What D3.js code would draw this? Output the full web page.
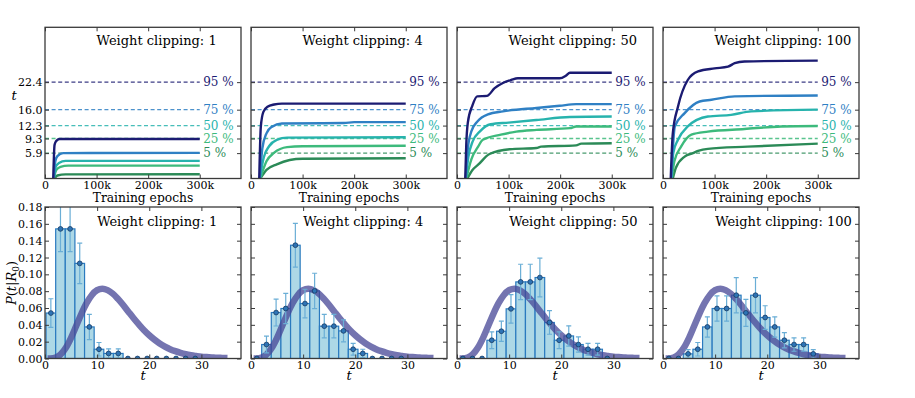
<!DOCTYPE html>
<html><head><meta charset="utf-8">
<script src="https://cdn.jsdelivr.net/npm/d3@7"></script>
<style>
body{margin:0;background:#fff;}
svg text{font-family:"DejaVu Serif",serif;}
</style></head><body>
<svg id="chart" width="915" height="398"></svg>
<script>
// ---------------- data ----------------
const clipValues = [1, 4, 50, 100];
const qLabels = ["95 %", "75 %", "50 %", "25 %", "5 %"];
const qValues = [22.4, 16.0, 12.3, 9.3, 5.9];
const epochTicks = [0, 100000, 200000, 300000];
const epochTickLabels = ["0", "100k", "200k", "300k"];
const tTicks = [0, 10, 20, 30];
const pTicks = [0, 0.02, 0.04, 0.06, 0.08, 0.10, 0.12, 0.14, 0.16, 0.18];

// training curves: [epoch, t] for 95,75,50,25,5 %
const trainW1 = [
  [[16000,0],[18500,7.8],[21000,8.6],[28000,9.2],[300000,9.2]],
  [[17000,0],[20000,4.0],[24000,5.2],[35000,5.9],[300000,5.95]],
  [[17000,0],[21000,2.8],[27000,3.6],[40000,4.1],[300000,4.1]],
  [[17000,0],[22000,2.0],[30000,2.7],[45000,3.0],[300000,3.0]],
  [[18000,0],[24000,0.7],[40000,0.95],[300000,1.0]]
];
const trainW4 = [
  [[16000,0],[19000,12],[24000,15.5],[32000,16.7],[45000,17.2],[60000,17.4],[300000,17.4]],
  [[17000,0],[22000,7],[30000,10.5],[40000,12.0],[60000,12.8],[180000,12.9],[200000,13.1],[300000,13.1]],
  [[17000,0],[25000,5],[35000,7.5],[50000,9.0],[70000,9.5],[300000,9.6]],
  [[18000,0],[30000,4],[45000,6],[70000,7.3],[100000,7.5],[300000,7.6]],
  [[18000,0],[30000,2],[50000,3.3],[75000,4.3],[100000,4.6],[300000,4.7]]
];
const trainW50 = [
  [[16000,0],[18000,8],[21000,13],[30000,17],[39000,19.1],[58000,19.2],[73000,21.0],[89000,22.2],[105000,22.9],[118000,23.3],[199000,23.3],[211000,23.9],[219000,24.6],[300000,24.6]],
  [[17000,0],[21000,7],[28000,11.0],[40000,13.3],[60000,14.9],[89000,15.6],[154000,16.4],[199000,16.9],[231000,17.3],[300000,17.3]],
  [[17000,0],[22000,5],[30000,8.5],[45000,11.0],[65000,12.6],[100000,13.0],[154000,13.6],[219000,14.3],[300000,14.4]],
  [[18000,0],[28000,4.5],[41000,7.4],[50000,9.0],[85000,10.2],[115000,10.9],[154000,11.3],[219000,11.7],[231000,12.1],[300000,12.1]],
  [[20000,0],[30000,2],[41000,3.2],[63000,5.7],[102000,6.8],[154000,7.1],[163000,7.4],[231000,7.7],[241000,8.1],[300000,8.2]]
];
const trainW100 = [
  [[15000,0],[19000,10.5],[29000,16.7],[48000,22.9],[68000,24.9],[100000,25.6],[126000,26.0],[139000,26.8],[158000,27.2],[300000,27.4]],
  [[16000,0],[23000,12.1],[42000,15.2],[71000,17.9],[94000,18.3],[139000,19.1],[300000,19.3]],
  [[16000,0],[20000,6],[29000,9.0],[48000,12.1],[87000,14.4],[132000,14.8],[171000,15.6],[300000,16.0]],
  [[17000,0],[22000,4],[35000,7.4],[55000,10.2],[87000,10.9],[158000,11.5],[229000,12.1],[300000,12.2]],
  [[19000,0],[25000,2.5],[42000,5.1],[58000,5.9],[68000,6.4],[87000,6.9],[164000,7.4],[300000,8.1]]
];

// histograms
const binEdges = [0.2, 2.05, 3.89, 5.74, 7.59, 9.43, 11.28, 13.13, 14.98, 16.82, 18.67, 20.52, 22.36, 24.21, 26.06, 27.9, 29.75];
const histW1   = [0.054, 0.154, 0.154, 0.113, 0.0375, 0.011, 0.006, 0.006, 0, 0, 0, 0, 0, 0, 0, 0];
const errW1    = [0.017, 0.027, 0.027, 0.024, 0.015, 0.008, 0.0055, 0.0055, 0, 0, 0, 0, 0, 0, 0, 0];
const histW4   = [0, 0.0166, 0.0546, 0.0594, 0.1346, 0.0653, 0.0803, 0.0384, 0.0384, 0.0328, 0.011, 0.006, 0, 0, 0, 0];
const errW4    = [0, 0.01, 0.016, 0.018, 0.026, 0.017, 0.021, 0.014, 0.014, 0.013, 0.007, 0.005, 0, 0, 0, 0];
const histW50  = [0, 0, 0, 0.0217, 0.0324, 0.059, 0.091, 0.091, 0.0962, 0.0428, 0.0217, 0.0268, 0.0166, 0.011, 0.011, 0];
const errW50   = [0, 0, 0, 0.01, 0.012, 0.017, 0.021, 0.021, 0.023, 0.014, 0.01, 0.012, 0.009, 0.007, 0.007, 0];
const histW100 = [0, 0, 0.0055, 0.011, 0.0375, 0.0594, 0.0594, 0.0752, 0.0542, 0.0752, 0.0487, 0.0375, 0.0217, 0.0166, 0.0166, 0.0055];
const errW100  = [0, 0, 0.005, 0.008, 0.012, 0.015, 0.015, 0.021, 0.016, 0.021, 0.014, 0.012, 0.009, 0.008, 0.008, 0.005];

// reference density curve
const curveT = [0.5,1,2,3,4,5,6,7,8,9,10,11,12,13,14,15,16,17,18,19,20,21,22,23,24,25,26,27,28,29,30,31,32,33,34,35];
const curveP = [0,0.0001,0.001,0.0048,0.0127,0.0246,0.0389,0.0534,0.066,0.0755,0.0812,0.083,0.0813,0.0771,0.0708,0.0635,0.0556,0.0478,0.0405,0.0336,0.0276,0.0224,0.0179,0.0142,0.0111,0.0087,0.0067,0.0051,0.0039,0.003,0.0022,0.0017,0.0013,0.0009,0.0007,0.0005];

// ---------------- style ----------------
const FONT = "DejaVu Serif, serif";
const qColors = ["#1b1b72", "#2f80c4", "#27b3ad", "#3dba7c", "#2b8a57"];
const trains = [trainW1, trainW4, trainW50, trainW100];
const hists = [histW1, histW4, histW50, histW100];
const errs = [errW1, errW4, errW50, errW100];

const svg = d3.select("#chart");
const defs = svg.append("defs");
const PW = 196, STEP = 206, LEFT0 = 45;
const TOP_Y0 = 27.3, TOP_Y1 = 178.5, BOT_Y0 = 207, BOT_Y1 = 358.5;
const FRAME = "#3a3a3a";

function txt(sel, size) {
  return sel.attr("font-family", FONT).attr("font-size", size).attr("fill", "#000");
}
function styleAxis(g) {
  g.select(".domain").remove();
  g.selectAll(".tick line").attr("stroke", FRAME).attr("stroke-width", 1);
  g.selectAll("text").attr("font-family", FONT).attr("font-size", 11).attr("fill", "#000");
  g.attr("font-family", null).attr("font-size", null);
}
function axes(x, y, xt, xfmt, yt, yfmt, showY) {
  const g = svg.append("g");
  const [y1, y0] = y.range();
  const [x0, x1] = x.range();
  g.append("g").attr("transform", `translate(0,${y1})`)
    .call(d3.axisBottom(x).tickValues(xt).tickSize(-4).tickPadding(2.5).tickFormat(xfmt)).call(styleAxis);
  g.append("g").attr("transform", `translate(0,${y0})`)
    .call(d3.axisTop(x).tickValues(xt).tickSize(-4).tickFormat("")).call(styleAxis);
  g.append("g").attr("transform", `translate(${x0},0)`)
    .call(d3.axisLeft(y).tickValues(yt).tickSize(-4).tickPadding(2.5).tickFormat(showY ? yfmt : () => "")).call(styleAxis);
  g.append("g").attr("transform", `translate(${x1},0)`)
    .call(d3.axisRight(y).tickValues(yt).tickSize(-4).tickFormat("")).call(styleAxis);
  g.append("rect").attr("x", x0).attr("y", y0).attr("width", x1 - x0).attr("height", y1 - y0)
    .attr("fill", "none").attr("stroke", FRAME).attr("stroke-width", 1.3);
}

clipValues.forEach((w, i) => {
  const L = LEFT0 + i * STEP;
  // ---------- top panel ----------
  const x = d3.scaleLinear().domain([0, 380000]).range([L, L + PW]);
  const y = d3.scaleLinear().domain([0, 35.15]).range([TOP_Y1, TOP_Y0]);
  defs.append("clipPath").attr("id", "ct" + i).append("rect")
    .attr("x", L).attr("y", TOP_Y0).attr("width", PW).attr("height", TOP_Y1 - TOP_Y0);
  const gt = svg.append("g").attr("clip-path", `url(#ct${i})`);
  qValues.forEach((q, k) => {
    gt.append("line").attr("x1", x(0)).attr("x2", x(300000)).attr("y1", y(q)).attr("y2", y(q))
      .attr("stroke", qColors[k]).attr("stroke-width", 1.3).attr("stroke-dasharray", "4,2.6").attr("opacity", 0.85);
  });
  const line = d3.line().x(d => x(d[0])).y(d => y(d[1])).curve(d3.curveMonotoneX);
  trains[i].slice().reverse().forEach((s, kk) => {
    const k = 4 - kk;
    gt.append("path").attr("d", line(s)).attr("fill", "none").attr("stroke", qColors[k])
      .attr("stroke-width", 2.4).attr("stroke-linejoin", "round");
  });
  qValues.forEach((q, k) => {
    txt(svg.append("text"), 12).attr("x", x(300000) + 3.5).attr("y", y(q)).attr("dy", "0.36em")
      .attr("fill", qColors[k]).text(qLabels[k]);
  });
  txt(svg.append("text"), 13).attr("x", x(100000)).attr("y", y(31)).text("Weight clipping: " + w);
  axes(x, y, epochTicks, d => epochTickLabels[epochTicks.indexOf(d)], qValues, d3.format(".1f"), i === 0);
  txt(svg.append("text"), 12.3).attr("x", L + PW / 2).attr("y", 201.8).attr("text-anchor", "middle")
    .text("Training epochs");

  // ---------- bottom panel ----------
  const bx = d3.scaleLinear().domain([0, 37.6]).range([L, L + PW]);
  const by = d3.scaleLinear().domain([0, 0.18]).range([BOT_Y1, BOT_Y0]);
  defs.append("clipPath").attr("id", "cb" + i).append("rect")
    .attr("x", L).attr("y", BOT_Y0).attr("width", PW).attr("height", BOT_Y1 - BOT_Y0);
  const gb = svg.append("g").attr("clip-path", `url(#cb${i})`);
  const h = hists[i], e = errs[i];
  const bins = h.map((v, j) => ({ x0: binEdges[j], x1: binEdges[j + 1], v, err: e[j] }));
  gb.selectAll("rect.bar").data(bins.filter(b => b.v > 0)).join("rect").attr("class", "bar")
    .attr("x", b => bx(b.x0)).attr("width", b => bx(b.x1) - bx(b.x0))
    .attr("y", b => by(b.v)).attr("height", b => by(0) - by(b.v))
    .attr("fill", "#add8e6").attr("stroke", "#2a7abf").attr("stroke-width", 1.2);
  const cl = d3.line().x((d, j) => bx(curveT[j])).y(d => by(d)).curve(d3.curveMonotoneX);
  gb.append("path").attr("d", cl(curveP)).attr("fill", "none").attr("stroke", "#464696")
    .attr("stroke-width", 6.5).attr("opacity", 0.75);
  const eb = bins.filter(b => b.err > 0);
  const ec = "#6aaed6";
  gb.selectAll("line.eb").data(eb).join("line").attr("class", "eb")
    .attr("x1", b => bx((b.x0 + b.x1) / 2)).attr("x2", b => bx((b.x0 + b.x1) / 2))
    .attr("y1", b => by(b.v - b.err)).attr("y2", b => by(b.v + b.err))
    .attr("stroke", ec).attr("stroke-width", 1.2);
  [1, -1].forEach(sgn => {
    const c = "cap" + (sgn > 0 ? "u" : "d");
    gb.selectAll("line." + c).data(eb).join("line").attr("class", c)
      .attr("x1", b => bx((b.x0 + b.x1) / 2) - 2.5).attr("x2", b => bx((b.x0 + b.x1) / 2) + 2.5)
      .attr("y1", b => by(b.v + sgn * b.err)).attr("y2", b => by(b.v + sgn * b.err))
      .attr("stroke", ec).attr("stroke-width", 1.2);
  });
  gb.selectAll("circle").data(bins).join("circle")
    .attr("cx", b => bx((b.x0 + b.x1) / 2)).attr("cy", b => by(b.v)).attr("r", 2.4)
    .attr("fill", "#2e74b5").attr("stroke", "#173a63").attr("stroke-width", 0.8);
  txt(svg.append("text"), 13).attr("x", bx(10)).attr("y", by(0.157)).text("Weight clipping: " + w);
  axes(bx, by, tTicks, d3.format("d"), pTicks, d3.format(".2f"), i === 0);
  txt(svg.append("text"), 13).attr("x", L + PW / 2).attr("y", 380).attr("text-anchor", "middle")
    .attr("font-style", "italic").text("t");
});

// axis labels
txt(svg.append("text"), 13).attr("x", 14).attr("y", 100).attr("text-anchor", "middle")
  .attr("font-style", "italic").text("t");
const pl = txt(svg.append("text"), 13).attr("transform", "translate(16,283) rotate(-90)")
  .attr("text-anchor", "middle");
pl.append("tspan").attr("font-style", "italic").text("P");
pl.append("tspan").text("(");
pl.append("tspan").attr("font-style", "italic").text("t");
pl.append("tspan").text("|");
pl.append("tspan").attr("font-style", "italic").text("R");
pl.append("tspan").attr("font-size", 9).attr("dy", 3).text("0");
pl.append("tspan").attr("dy", -3).text(")");
</script>
</body></html>
